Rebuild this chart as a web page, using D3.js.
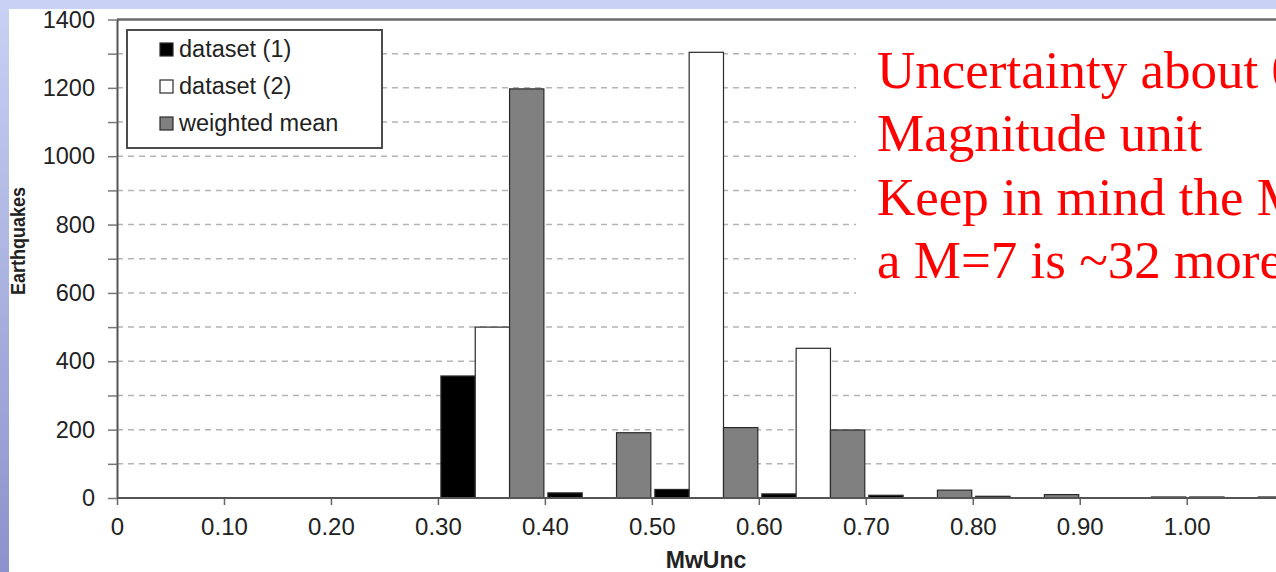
<!DOCTYPE html>
<html lang="en">
<head>
    <meta charset="UTF-8">
    <title>MwUnc histogram</title>
    <script src="https://d3js.org/d3.v7.min.js"></script>
    <style>
        body { margin: 0; padding: 0; overflow: hidden; }
    </style>
</head>
<body>
    <svg width="1276" height="572"></svg>

    <script>
        // Bin start values (MwUnc) and the counts per series
        const bins = [0, 0.1, 0.2, 0.3, 0.4, 0.5, 0.6, 0.7, 0.8, 0.9, 1.0];
        const dataset1 = [0, 0, 0, 357, 15, 25, 12, 8, 5, 0, 3];
        const dataset2 = [0, 0, 0, 500, 0, 1304, 438, 0, 0, 0, 0];
        const weightedMean = [0, 0, 0, 1197, 191, 206, 199, 23, 10, 3, 3];

        const seriesNames = ["dataset (1)", "dataset (2)", "weighted mean"];
        const xTickValues = [0, 0.1, 0.2, 0.3, 0.4, 0.5, 0.6, 0.7, 0.8, 0.9, 1.0];
        const xTickLabels = ["0", "0.10", "0.20", "0.30", "0.40", "0.50", "0.60", "0.70", "0.80", "0.90", "1.00"];
        const yTickValues = [0, 100, 200, 300, 400, 500, 600, 700, 800, 900, 1000, 1100, 1200, 1300, 1400];

        const noteLines = ["Uncertainty about 0", "Magnitude unit", "Keep in mind the M", "a M=7 is ~32 more"];

        const width = 1276;
        const height = 572;

        const fills = ["#000000", "#ffffff", "#808080"];

        const svg = d3.select("svg")
            .attr("width", width)
            .attr("height", height);

        // slide background: light strip on top, gradient strip on the left
        const defs = svg.append("defs");
        const grad = defs.append("linearGradient")
            .attr("id", "leftGrad")
            .attr("x1", 0).attr("y1", 0).attr("x2", 0).attr("y2", 1);
        grad.append("stop").attr("offset", "0%").attr("stop-color", "#c8d2f4");
        grad.append("stop").attr("offset", "100%").attr("stop-color", "#8c92cb");

        svg.append("rect").attr("x", 0).attr("y", 0).attr("width", width).attr("height", height).attr("fill", "#c8d2f4");
        svg.append("rect").attr("x", 0).attr("y", 0).attr("width", 9).attr("height", height).attr("fill", "url(#leftGrad)");
        svg.append("rect").attr("x", 9).attr("y", 9).attr("width", width - 9).attr("height", height - 9).attr("fill", "#ffffff");

        // scales
        const x = d3.scaleLinear()
            .domain([0, 1.0])
            .range([117, 1186.7]);

        const y = d3.scaleLinear()
            .domain([0, 1400])
            .range([498, 19.5]);

        const binWidth = x(0.1) - x(0);
        const sub = d3.scaleBand()
            .domain(d3.range(3))
            .range([3, binWidth - 1])
            .padding(0);

        // dashed gridlines
        svg.append("g")
            .selectAll("line")
            .data(yTickValues.filter(d => d > 0 && d < 1400))
            .enter()
            .append("line")
            .attr("x1", 117)
            .attr("x2", width)
            .attr("y1", d => y(d))
            .attr("y2", d => y(d))
            .attr("stroke", "#b4b4b4")
            .attr("stroke-width", 1.5)
            .attr("stroke-dasharray", "6,5");

        // bars
        const series = [dataset1, dataset2, weightedMean];
        series.forEach((vals, s) => {
            svg.append("g")
                .selectAll("rect")
                .data(bins.map((b, i) => ({ b: b, v: vals[i] })).filter(d => d.v > 0))
                .enter()
                .append("rect")
                .attr("x", d => x(d.b) + sub(s))
                .attr("y", d => y(d.v))
                .attr("width", sub.bandwidth())
                .attr("height", d => y(0) - y(d.v))
                .attr("fill", fills[s])
                .attr("stroke", "#2a2a2a")
                .attr("stroke-width", 1.2);
        });

        // white box behind the red note (hides the gridlines there)
        svg.append("rect")
            .attr("x", 856)
            .attr("y", 22)
            .attr("width", width - 856)
            .attr("height", 283)
            .attr("fill", "#ffffff");

        // top border of the plot area
        svg.append("line")
            .attr("x1", 117).attr("x2", width)
            .attr("y1", y(1400)).attr("y2", y(1400))
            .attr("stroke", "#6a6a6a")
            .attr("stroke-width", 2.5);

        // x axis
        const xAxis = svg.append("g")
            .attr("transform", `translate(0,${y(0)})`)
            .call(d3.axisBottom(x)
                .tickValues(xTickValues)
                .tickFormat((d, i) => xTickLabels[i])
                .tickSize(7)
                .tickSizeOuter(0));
        xAxis.select(".domain").remove();
        xAxis.append("line")
            .attr("x1", 117).attr("x2", width)
            .attr("stroke", "#555").attr("stroke-width", 2);
        xAxis.selectAll(".tick line").attr("stroke", "#666").attr("stroke-width", 1.5);
        xAxis.selectAll(".tick text")
            .attr("dy", 0)
            .attr("y", 37)
            .attr("fill", "#222")
            .style("font-family", "'Liberation Sans', Arial, sans-serif")
            .style("font-size", "24px");

        // y axis
        const yAxis = svg.append("g")
            .attr("transform", "translate(117,0)")
            .call(d3.axisLeft(y)
                .tickValues(yTickValues)
                .tickFormat(d => d % 200 === 0 ? d : "")
                .tickSize(9)
                .tickSizeOuter(0));
        yAxis.select(".domain").attr("stroke", "#555").attr("stroke-width", 2);
        yAxis.selectAll(".tick line").attr("stroke", "#777").attr("stroke-width", 1.5);
        yAxis.selectAll(".tick text")
            .attr("x", -22)
            .attr("fill", "#222")
            .style("font-family", "'Liberation Sans', Arial, sans-serif")
            .style("font-size", "23.5px");

        // axis titles
        svg.append("text")
            .attr("text-anchor", "middle")
            .attr("x", 706)
            .attr("y", 568)
            .attr("fill", "#222")
            .style("font-family", "'Liberation Sans', Arial, sans-serif")
            .style("font-size", "23px")
            .style("font-weight", "bold")
            .text("MwUnc");

        svg.append("text")
            .attr("text-anchor", "middle")
            .attr("transform", "translate(25,241) rotate(-90)")
            .attr("fill", "#222")
            .attr("textLength", 108)
            .attr("lengthAdjust", "spacingAndGlyphs")
            .style("font-family", "'Liberation Sans', Arial, sans-serif")
            .style("font-size", "21px")
            .style("font-weight", "bold")
            .text("Earthquakes");

        // legend
        const legend = svg.append("g");
        legend.append("rect")
            .attr("x", 127).attr("y", 30)
            .attr("width", 255).attr("height", 118)
            .attr("fill", "#ffffff")
            .attr("stroke", "#3a3a3a")
            .attr("stroke-width", 1.8);
        seriesNames.forEach((name, i) => {
            legend.append("rect")
                .attr("x", 160).attr("y", 43 + i * 37)
                .attr("width", 13).attr("height", 13)
                .attr("fill", fills[i])
                .attr("stroke", "#2a2a2a")
                .attr("stroke-width", 1.2);
            legend.append("text")
                .attr("x", 179).attr("y", 57 + i * 37)
                .attr("fill", "#222")
                .style("font-family", "'Liberation Sans', Arial, sans-serif")
                .style("font-size", "23.5px")
                .text(name);
        });

        // red note on the right
        svg.append("g")
            .selectAll("text")
            .data(noteLines)
            .enter()
            .append("text")
            .attr("x", 877)
            .attr("y", (d, i) => 88 + i * 63.3)
            .attr("fill", "#ff0000")
            .style("font-family", "'Liberation Serif', 'Times New Roman', serif")
            .style("font-size", "53px")
            .text(d => d);
    </script>
</body>
</html>
